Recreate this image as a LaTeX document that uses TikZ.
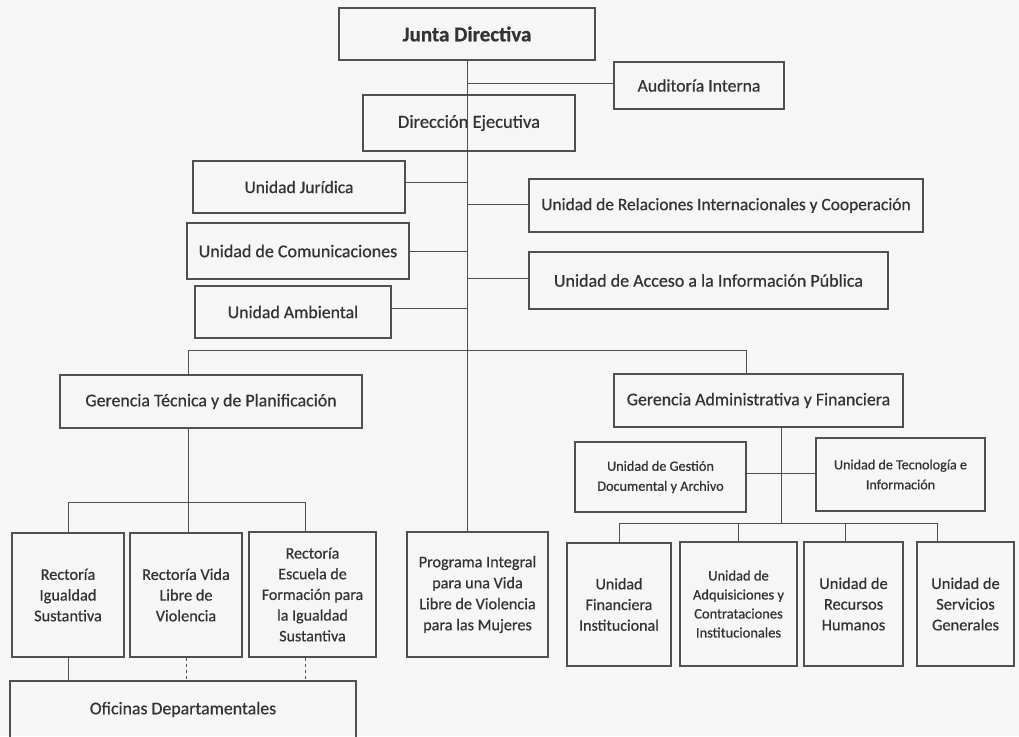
\documentclass[tikz,border=0pt]{standalone}
\usepackage{fontspec}
\setmainfont{Carlito}[FakeBold=0.6]
\definecolor{bg}{HTML}{F6F6F6}
\definecolor{ln}{HTML}{505050}
\definecolor{tx}{HTML}{333333}
\newcommand\fsz[2]{\fontsize{#1}{#2}\selectfont}
\tikzset{
  box/.style={draw=ln, line width=1.1pt, text=tx, inner sep=0pt, align=center},
  conn/.style={draw=ln, line width=1pt},
  dconn/.style={conn, dash pattern=on 3pt off 3pt}
}
\begin{document}
\begin{tikzpicture}[x=1pt,y=-1pt]
\useasboundingbox (0,0) rectangle (1019,736);
\fill[bg] (0,0) rectangle (1019,736);
\begin{scope}
\clip (0,0) rectangle (1019,736);
% top
\node[box, minimum width=256pt, minimum height=52pt, font=\bfseries\fsz{21}{25}] (junta) at (467,34) {Junta Directiva};
\node[box, minimum width=170pt, minimum height=47pt, font=\fsz{17.7}{21}] (aud) at (699,85.5) {Auditoría Interna};
\node[box, minimum width=212pt, minimum height=56pt, font=\fsz{18.5}{22}] (dir) at (469,123) {Dirección Ejecutiva};
% staff units
\node[box, minimum width=212pt, minimum height=52pt, font=\fsz{17.5}{21}] (jur) at (299,187) {Unidad Jurídica};
\node[box, minimum width=222pt, minimum height=56pt, font=\fsz{18}{22}] (com) at (298,251) {Unidad de Comunicaciones};
\node[box, minimum width=196pt, minimum height=52pt, font=\fsz{17.8}{21}] (amb) at (293,312) {Unidad Ambiental};
\node[box, minimum width=394pt, minimum height=53pt, font=\fsz{17.4}{21}] (rel) at (726,205.5) {Unidad de Relaciones Internacionales y Cooperación};
\node[box, minimum width=359pt, minimum height=57pt, font=\fsz{18}{21}] (acc) at (708.5,280.5) {Unidad de Acceso a la Información Pública};
% gerencias
\node[box, minimum width=302pt, minimum height=53pt, font=\fsz{17.85}{21}] (gt) at (211,401.5) {Gerencia Técnica y de Planificación};
\node[box, minimum width=289pt, minimum height=53pt, font=\fsz{17.8}{21}] (ga) at (758.5,400.5) {Gerencia Administrativa y Financiera};
\node[box, minimum width=171pt, minimum height=70pt, font=\fsz{14.2}{20}] (ges) at (660.5,477) {Unidad de Gestión\\Documental y Archivo};
\node[box, minimum width=169pt, minimum height=73pt, font=\fsz{14.1}{20}] (tec) at (900.5,474.5) {Unidad de Tecnología e\\Información};
% rectorias
\node[box, minimum width=112pt, minimum height=124pt, font=\fsz{16.3}{20.7}] (igu) at (68,595) {Rectoría\\Igualdad\\Sustantiva};
\node[box, minimum width=112pt, minimum height=124pt, font=\fsz{16.3}{20.7}] (vida) at (186,595) {Rectoría Vida\\Libre de\\Violencia};
\node[box, minimum width=127pt, minimum height=125pt, font=\fsz{16}{20.7}] (esc) at (312.5,594.5) {Rectoría\\Escuela de\\Formación para\\la Igualdad\\Sustantiva};
\node[box, minimum width=141pt, minimum height=125pt, font=\fsz{16.2}{21}] (prog) at (477.5,594.5) {Programa Integral\\para una Vida\\Libre de Violencia\\para las Mujeres};
\node[box, minimum width=346pt, minimum height=57pt, font=\fsz{17.8}{21}] (ofi) at (183,709.5) {Oficinas Departamentales};
% admin units
\node[box, minimum width=104pt, minimum height=123pt, font=\fsz{16}{20.7}] (fin) at (619,604.5) {Unidad\\Financiera\\Institucional};
\node[box, minimum width=117pt, minimum height=124pt, font=\fsz{14.5}{19}] (adq) at (738.5,604) {Unidad de\\Adquisiciones y\\Contrataciones\\Institucionales};
\node[box, minimum width=99pt, minimum height=124pt, font=\fsz{16.4}{20.7}] (rec) at (853.5,604) {Unidad de\\Recursos\\Humanos};
\node[box, minimum width=97pt, minimum height=124pt, font=\fsz{16.4}{20.7}] (ser) at (965.5,604) {Unidad de\\Servicios\\Generales};
% connectors
\coordinate (t1) at (junta.south);
\draw[conn] (junta.south) -- (t1 |- prog.north);
\coordinate (audW) at ([yshift=2.5pt]aud.west);
\draw[conn] (audW) -- (t1 |- audW);
\coordinate (jurE) at ([yshift=5pt]jur.east);
\draw[conn] (jurE) -- (t1 |- jurE);
\draw[conn] (com.east) -- (t1 |- com.east);
\coordinate (ambE) at ([yshift=4pt]amb.east);
\draw[conn] (ambE) -- (t1 |- ambE);
\coordinate (relW) at ([yshift=1.5pt]rel.west);
\draw[conn] (relW) -- (t1 |- relW);
\coordinate (accW) at ([yshift=2.5pt]acc.west);
\draw[conn] (accW) -- (t1 |- accW);
% gerencias bus
\draw[conn] ([xshift=-23pt]gt.north) -- ++(0,-24) -| ([xshift=-12.5pt]ga.north);
% gt subtree
\coordinate (gtb) at ([xshift=-23pt,yshift=-74pt]gt.south);
\draw[conn] ([xshift=-23pt]gt.south) -- ([xshift=2pt]vida.north);
\draw[conn] (igu.north) |- (gtb) -| ([xshift=-7.5pt]esc.north);
\draw[conn] (igu.south) -- (igu.south |- ofi.north);
\draw[dconn] (vida.south) -- (vida.south |- ofi.north);
\coordinate (escS) at ([xshift=-7.5pt]esc.south);
\draw[dconn] (escS) -- (escS |- ofi.north);
% ga subtree
\coordinate (gab) at ([xshift=22.5pt,yshift=-96pt]ga.south);
\draw[conn] ([xshift=22.5pt]ga.south) -- (gab);
\draw[conn] ([yshift=4pt]ges.east) -- ([yshift=1.5pt]tec.west);
\draw[conn] (fin.north) |- (gab) -| ([xshift=-28.5pt]ser.north);
\draw[conn] (adq.north) -- (adq.north |- gab);
\coordinate (recN) at ([xshift=-8.5pt]rec.north);
\draw[conn] (recN) -- (recN |- gab);
\end{scope}
\end{tikzpicture}
\end{document}
